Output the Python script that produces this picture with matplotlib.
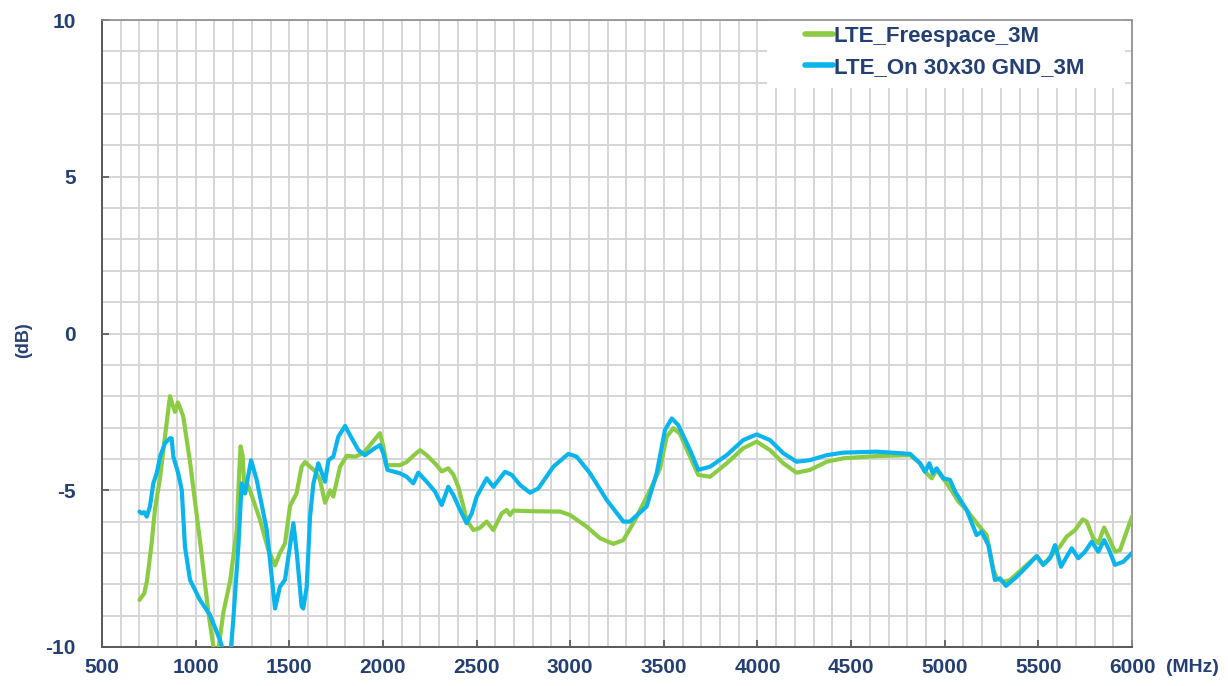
#!/usr/bin/env python3
"""LTE antenna efficiency sweep: free space vs. mounted on a 30x30 ground plane."""

import matplotlib
matplotlib.use("Agg")
import matplotlib.pyplot as plt
from matplotlib.patches import Rectangle
from matplotlib.ticker import MultipleLocator

# values (MHz, dB)
FREE_MHZ = [700, 712, 725, 740, 765, 783, 810, 836, 863, 878, 890, 905, 916, 934,
            970, 1023, 1068, 1110, 1148, 1184, 1219, 1232, 1240, 1251, 1262, 1275,
            1290, 1344, 1388, 1424, 1450, 1477, 1504, 1539, 1566, 1584, 1611, 1640,
            1664, 1691, 1718, 1735, 1771, 1807, 1851, 1895, 1940, 1984, 2002, 2020,
            2091, 2127, 2162, 2198, 2234, 2287, 2314, 2349, 2376, 2403, 2429, 2447,
            2483, 2518, 2554, 2590, 2634, 2661, 2679, 2696, 2800, 2946, 2999, 3088,
            3159, 3230, 3284, 3337, 3391, 3444, 3480, 3515, 3551, 3586, 3640, 3684,
            3747, 3836, 3924, 3996, 4067, 4138, 4209, 4281, 4370, 4459, 4637, 4815,
            4868, 4895, 4930, 4957, 5011, 5046, 5073, 5117, 5179, 5224, 5260, 5278,
            5313, 5349, 5491, 5526, 5571, 5615, 5651, 5696, 5737, 5758, 5793, 5820,
            5851, 5874, 5909, 5936, 6000]
FREE_DB = [-8.5, -8.4, -8.3, -7.9, -6.7, -5.6, -4.6, -3.3, -2.0, -2.3, -2.5, -2.2,
           -2.35, -2.65, -4.1, -6.6, -8.9, -10.6, -8.9, -7.9, -6.3, -4.5, -3.6, -3.9,
           -5.1, -4.8, -5.0, -5.95, -6.9, -7.4, -7.0, -6.7, -5.5, -5.1, -4.25, -4.1,
           -4.25, -4.4, -4.67, -5.4, -5.0, -5.2, -4.25, -3.9, -3.93, -3.82, -3.5,
           -3.18, -3.6, -4.2, -4.2, -4.1, -3.9, -3.72, -3.88, -4.2, -4.4, -4.3, -4.5,
           -4.9, -5.5, -5.95, -6.27, -6.2, -6.0, -6.27, -5.74, -5.63, -5.79, -5.65,
           -5.67, -5.68, -5.79, -6.16, -6.53, -6.71, -6.59, -6.05, -5.42, -4.78,
           -4.3, -3.3, -3.02, -3.2, -3.93, -4.51, -4.57, -4.14, -3.66, -3.45, -3.72,
           -4.14, -4.44, -4.35, -4.09, -3.98, -3.91, -3.88, -4.14, -4.41, -4.62,
           -4.35, -4.78, -5.1, -5.36, -5.63, -6.11, -6.43, -7.54, -7.81, -7.92,
           -7.86, -7.1, -7.38, -7.07, -6.8, -6.48, -6.27, -5.93, -6.0, -6.53, -6.69,
           -6.19, -6.48, -6.96, -6.91, -5.84]

GND_MHZ = [700, 712, 725, 739, 756, 774, 792, 810, 836, 863, 872, 881, 907, 926,
           943, 970, 1023, 1077, 1130, 1160, 1185, 1201, 1228, 1246, 1264, 1296,
           1326, 1380, 1424, 1450, 1477, 1522, 1540, 1566, 1575, 1593, 1611, 1629,
           1655, 1691, 1709, 1735, 1762, 1798, 1824, 1869, 1904, 1949, 1984, 2002,
           2024, 2091, 2127, 2162, 2189, 2234, 2278, 2314, 2349, 2376, 2412, 2447,
           2474, 2501, 2554, 2590, 2652, 2688, 2732, 2786, 2830, 2910, 2990, 3035,
           3106, 3195, 3284, 3319, 3408, 3462, 3506, 3542, 3577, 3640, 3684, 3747,
           3836, 3924, 3996, 4067, 4138, 4209, 4281, 4370, 4459, 4637, 4815, 4868,
           4895, 4918, 4936, 4957, 4993, 5028, 5055, 5117, 5170, 5197, 5233, 5268,
           5295, 5327, 5384, 5437, 5491, 5526, 5562, 5589, 5621, 5651, 5678, 5713,
           5749, 5785, 5820, 5851, 5874, 5909, 5954, 6000]
GND_DB = [-5.68, -5.74, -5.7, -5.84, -5.52, -4.78, -4.46, -3.93, -3.5, -3.34, -3.35,
          -3.93, -4.46, -5.0, -6.8, -7.86, -8.5, -8.98, -9.78, -10.4, -10.3, -9.14,
          -6.8, -4.78, -5.1, -4.04, -4.67, -6.27, -8.77, -8.08, -7.86, -6.05, -7.0,
          -8.71, -8.77, -8.08, -5.84, -4.78, -4.14, -4.73, -4.04, -3.93, -3.29,
          -2.95, -3.24, -3.72, -3.88, -3.69, -3.56, -3.82, -4.35, -4.46, -4.57,
          -4.78, -4.44, -4.73, -5.04, -5.47, -4.89, -5.15, -5.63, -6.05, -5.74,
          -5.2, -4.62, -4.89, -4.41, -4.51, -4.83, -5.08, -4.94, -4.25, -3.84,
          -3.93, -4.46, -5.31, -6.0, -6.0, -5.52, -4.46, -3.08, -2.71, -2.92, -3.72,
          -4.35, -4.25, -3.88, -3.4, -3.22, -3.4, -3.82, -4.09, -4.04, -3.88, -3.8,
          -3.77, -3.84, -4.14, -4.41, -4.14, -4.46, -4.3, -4.62, -4.67, -5.04, -5.63,
          -6.43, -6.32, -6.75, -7.86, -7.81, -8.05, -7.76, -7.44, -7.1, -7.38, -7.17,
          -6.75, -7.44, -7.12, -6.85, -7.17, -6.96, -6.64, -6.96, -6.59, -6.85,
          -7.38, -7.28, -7.0]

LABELS = ["LTE_Freespace_3M", "LTE_On 30x30 GND_3M"]
COLORS = ["#8CCB44", "#0AB4EC"]
NAVY = "#243F73"

plt.rcParams["font.family"] = ["Liberation Sans", "DejaVu Sans"]
plt.rcParams["axes.unicode_minus"] = False

fig = plt.figure(figsize=(12.28, 6.86), dpi=100)
ax = fig.add_axes([102 / 1228, 1 - 647 / 686, 1030 / 1228, 627 / 686])

for x, y, lab, c in zip((FREE_MHZ, GND_MHZ), (FREE_DB, GND_DB), LABELS, COLORS):
    ax.plot(x, y, color=c, lw=3, label=lab, solid_joinstyle="round",
            solid_capstyle="round", zorder=3)

ax.set_xlim(500, 6000)
ax.set_ylim(-10, 10)
ax.xaxis.set_major_locator(MultipleLocator(500))
ax.xaxis.set_minor_locator(MultipleLocator(100))
ax.yaxis.set_major_locator(MultipleLocator(5))
ax.yaxis.set_minor_locator(MultipleLocator(1))
ax.set_axisbelow(True)
ax.grid(which="both", color="#D6D6D6", lw=1.4)

ax.tick_params(which="major", direction="in", length=5, width=1.2, color="#555555",
               labelsize=15, labelcolor=NAVY, pad=8)
ax.tick_params(axis="y", which="major", pad=19)
ax.tick_params(which="minor", length=0)
for lab in ax.get_xticklabels() + ax.get_yticklabels():
    lab.set_fontweight("bold")

for side in ("left", "bottom"):
    ax.spines[side].set_color("#595959")
    ax.spines[side].set_linewidth(1.4)
for side in ("top", "right"):
    ax.spines[side].set_color("#8C8C8C")
    ax.spines[side].set_linewidth(1.2)

# white panel behind the legend hides the grid in the top right corner
ax.add_patch(Rectangle((665 / 1030, 1 - 68 / 627), 358 / 1030, 68 / 627,
                       transform=ax.transAxes, facecolor="white", edgecolor="none",
                       zorder=1))
leg = ax.legend(loc="upper left", bbox_to_anchor=(683 / 1030, 1.022), frameon=False,
                handlelength=1.25, handletextpad=0.05, labelspacing=0.45,
                prop={"size": 16, "weight": "bold"})
for t in leg.get_texts():
    t.set_color(NAVY)
for h in leg.get_lines():
    h.set_linewidth(4)

fig.text(24 / 1228, 1 - 340 / 686, "(dB)", rotation=90, ha="center", va="center",
         fontsize=13, fontweight="bold", color=NAVY)
fig.text(1192 / 1228, 1 - 667 / 686, "(MHz)", ha="center", va="center",
         fontsize=14, fontweight="bold", color=NAVY)

fig.savefig("out.png", dpi=100)
